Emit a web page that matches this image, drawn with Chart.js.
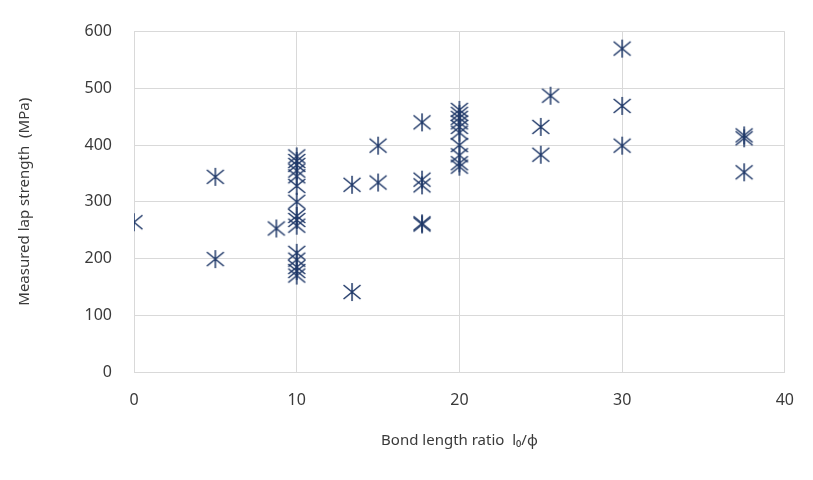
<!DOCTYPE html>
<html>
<head>
<meta charset="utf-8">
<script src="https://cdn.jsdelivr.net/npm/chart.js@4/dist/chart.umd.min.js"></script>
<style>
    html, body { margin: 0; padding: 0; background: #fff; }
    #wrap { width: 813px; height: 480px; position: relative; }
</style>
</head>
<body>
<div id="wrap"><canvas id="lapChart"></canvas></div>
<script>
// Bond length ratio (x) and measured lap strength in MPa (y)
const ratioValues = [
    0, 5, 5, 8.75,
    10, 10, 10, 10, 10, 10, 10, 10, 10, 10, 10, 10, 10, 10, 10,
    13.4, 13.4, 15, 15,
    17.7, 17.7, 17.7, 17.7, 17.7,
    20, 20, 20, 20, 20, 20, 20, 20, 20, 20,
    25, 25, 25.6,
    30, 30, 30,
    37.5, 37.5, 37.5
];
const strengthValues = [
    264, 344, 199, 253,
    380, 372, 365, 355, 345, 328, 300, 275, 268, 258, 210, 198, 185, 178, 170,
    330, 141, 399, 334,
    440, 339, 329, 262, 260,
    462, 455, 448, 440, 432, 422, 400, 382, 368, 362,
    432, 383, 487,
    570, 469, 399,
    417, 412, 352
];
const xTicks = [0, 10, 20, 30, 40];
const yTicks = [0, 100, 200, 300, 400, 500, 600];

const markerColor = '#1f3868';
const textColor = '#3a3a3a';
const gridColor = '#d9d9d9';

// Excel style asterisk marker: one vertical stroke and two diagonals
function makeMarker() {
    const c = document.createElement('canvas');
    c.width = 20;
    c.height = 20;
    const g = c.getContext('2d');
    g.strokeStyle = markerColor;
    g.lineWidth = 1.5;
    g.beginPath();
    g.moveTo(10, 1); g.lineTo(10, 19);
    g.moveTo(1.5, 3); g.lineTo(18.5, 17);
    g.moveTo(18.5, 3); g.lineTo(1.5, 17);
    g.stroke();
    return c;
}

const points = ratioValues.map((x, i) => ({ x: x, y: strengthValues[i] }));
const fontFamily = '"Noto Sans", "Open Sans", sans-serif';

new Chart(document.getElementById('lapChart'), {
    type: 'scatter',
    data: {
        datasets: [{
            label: 'Lap strength',
            data: points,
            pointStyle: makeMarker(),
            pointRadius: 10,
            borderColor: markerColor,
            backgroundColor: markerColor
        }]
    },
    options: {
        responsive: true,
        maintainAspectRatio: false,
        animation: false,
        layout: {
            padding: { top: 29, right: 28, left: 0, bottom: 26 }
        },
        plugins: {
            legend: { display: false },
            tooltip: { enabled: false }
        },
        scales: {
            x: {
                type: 'linear',
                min: 0,
                max: 40,
                afterBuildTicks: (scale) => { scale.ticks = xTicks.map(v => ({ value: v })); },
                afterFit: (scale) => { scale.height = 82; },
                grid: { color: gridColor, drawTicks: false },
                border: { color: gridColor },
                ticks: {
                    padding: 19,
                    color: textColor,
                    font: { family: fontFamily, size: 16 }
                },
                title: {
                    display: true,
                    text: 'Bond length ratio  l\u2080/\u03d5',
                    color: textColor,
                    padding: { top: 12, bottom: 4 },
                    font: { family: fontFamily, size: 15 }
                }
            },
            y: {
                type: 'linear',
                min: 0,
                max: 600,
                afterBuildTicks: (scale) => { scale.ticks = yTicks.map(v => ({ value: v })); },
                afterFit: (scale) => { scale.width = 134; },
                grid: { color: gridColor, drawTicks: false },
                border: { display: false },
                ticks: {
                    padding: 22,
                    color: textColor,
                    font: { family: fontFamily, size: 16 }
                },
                title: {
                    display: true,
                    text: 'Measured lap strength  (MPa)',
                    color: textColor,
                    padding: { top: 16, bottom: 0 },
                    font: { family: fontFamily, size: 15 }
                }
            }
        }
    }
});
</script>
</body>
</html>
